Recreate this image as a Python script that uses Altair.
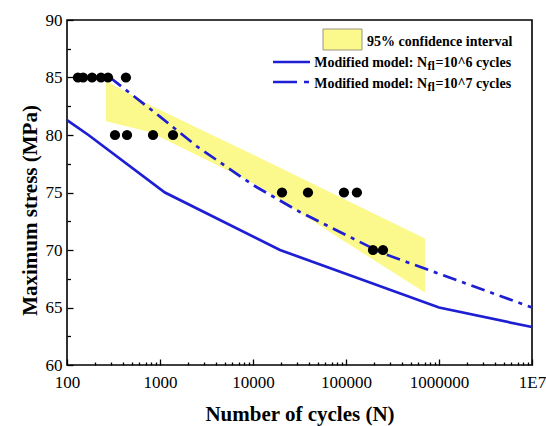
import altair as alt
import pandas as pd

FONT = "Liberation Serif"
BLUE = "#1e1ed2"
YELLOW = "#fbf88c"

# ---- data ----
pts_N = [131, 149, 186, 232, 276, 430,
         328, 442, 841, 1380,
         20500, 39000, 95000, 131000,
         195000, 250000]
pts_S = [85, 85, 85, 85, 85, 85,
         80, 80, 80, 80,
         75, 75, 75, 75,
         70, 70]

m6_N = [100, 170, 1130, 19500, 1000000, 10000000]
m6_S = [81.3, 80.0, 75.0, 70.0, 65.0, 63.3]

m7_N = [290, 1000, 2500, 10000, 32000, 250000, 10000000]
m7_S = [85.0, 81.6, 79.0, 75.65, 73.3, 69.7, 65.0]

band_N = [262, 780, 2700, 11900, 86000, 706000]
band_upper = [84.7, 82.6, 80.5, 78.0, 74.6, 71.0]
band_lower = [81.2, 80.26, 78.1, 75.5, 71.0, 66.3]

x_major = [100, 1000, 10000, 100000, 1000000, 10000000]
x_minor = [m * 10 ** k for k in range(2, 7) for m in range(2, 10)]
y_major = [60, 65, 70, 75, 80, 85, 90]
y_minor = [62.5, 67.5, 72.5, 77.5, 82.5, 87.5]

x_title = "Number of cycles (N)"
y_title = "Maximum stress (MPa)"
leg_band = "95% confidence interval"
leg_model = "Modified model: N"
leg_sub = "fl"
leg_6 = "=10^6 cycles"
leg_7 = "=10^7 cycles"

# ---- scales ----
xs = alt.Scale(type="log", domain=[100, 1e7], nice=False)
ys = alt.Scale(domain=[60, 90], nice=False, zero=False)

band_df = pd.DataFrame({"N": band_N, "upper": band_upper, "lower": band_lower})
pts_df = pd.DataFrame({"N": pts_N, "S": pts_S})
m6_df = pd.DataFrame({"N": m6_N, "S": m6_S})
m7_df = pd.DataFrame({"N": m7_N, "S": m7_S})

band = alt.Chart(band_df).mark_area(color=YELLOW, opacity=1).encode(
    x=alt.X("N:Q", scale=xs, axis=alt.Axis(
        values=x_major, orient="bottom", offset=-6, tickSize=6, domain=False,
        labelPadding=9, labelFlush=False,
        labelExpr="datum.value >= 1e7 ? '1E7' : format(datum.value, 'd')",
        title=x_title, titleX=232.5, titleY=61, titleBaseline="alphabetic")),
    y=alt.Y("upper:Q", scale=ys, axis=alt.Axis(
        values=y_major, orient="left", offset=-6, tickSize=6, domain=False,
        labelPadding=5, format="d",
        title=y_title, titleAngle=-90, titleX=-37, titleY=190,
        titleBaseline="alphabetic")),
    y2="lower:Q",
)

line6 = alt.Chart(m6_df).mark_line(color=BLUE, strokeWidth=2.7).encode(
    x=alt.X("N:Q", scale=xs, axis=alt.Axis(
        values=x_minor, orient="bottom", offset=-3, tickSize=3, domain=False,
        labels=False, title=None)),
    y=alt.Y("S:Q", scale=ys, axis=alt.Axis(
        values=y_minor, orient="left", offset=-3.5, tickSize=3.5, domain=False,
        labels=False, title=None)),
)

line7 = alt.Chart(m7_df).mark_line(color=BLUE, strokeWidth=2.7,
                                   strokeDash=[14, 6, 4, 6]).encode(
    x=alt.X("N:Q", scale=xs, axis=None),
    y=alt.Y("S:Q", scale=ys, axis=None),
)

points = alt.Chart(pts_df).mark_circle(color="black", opacity=1, size=105).encode(
    x=alt.X("N:Q", scale=xs, axis=None),
    y=alt.Y("S:Q", scale=ys, axis=None),
)

# ---- manual legend ----
one = pd.DataFrame({"k": [0]})
sw = alt.Chart(one).mark_rect(color=YELLOW, stroke="#9a9480", strokeWidth=1).encode(
    x=alt.value(256), x2=alt.value(295), y=alt.value(9), y2=alt.value(30))
l1 = alt.Chart(one).mark_rule(color=BLUE, strokeWidth=2.7).encode(
    x=alt.value(206), x2=alt.value(243), y=alt.value(42))
l2 = alt.Chart(one).mark_rule(color=BLUE, strokeWidth=2.7, strokeDash=[24, 7, 5, 10]).encode(
    x=alt.value(206), x2=alt.value(243), y=alt.value(62))


def txt(s, x, y, align="left", size=14):
    return alt.Chart(pd.DataFrame({"t": [s]})).mark_text(
        font=FONT, fontWeight="bold", fontSize=size, color="black",
        align=align, baseline="middle").encode(
        x=alt.value(x), y=alt.value(y), text="t:N")


legend = [
    sw, l1, l2,
    txt(leg_band, 300, 21.5),
    txt(leg_model, 360, 42.5, align="right"),
    txt(leg_sub, 360.5, 46, size=12),
    txt(leg_6, 368.5, 42.5),
    txt(leg_model, 360, 63.5, align="right"),
    txt(leg_sub, 360.5, 67, size=12),
    txt(leg_7, 368.5, 63.5),
]

chart = alt.layer(band, line6, line7, points, *legend).resolve_axis(
    x="independent", y="independent"
).properties(
    width=465, height=345,
    autosize=alt.AutoSizeParams(type="none"),
    padding={"left": 67, "top": 20, "right": 14, "bottom": 61},
    background="white",
).configure_axis(
    labelFont=FONT, labelFontSize=17, labelColor="black",
    titleFont=FONT, titleFontSize=21, titleFontWeight="bold", titleColor="black",
    tickColor="black", tickWidth=1.3, grid=False,
).configure_view(stroke="black", strokeWidth=1.6)

chart.save("out.html", embed_options={"renderer": "svg", "actions": False})
